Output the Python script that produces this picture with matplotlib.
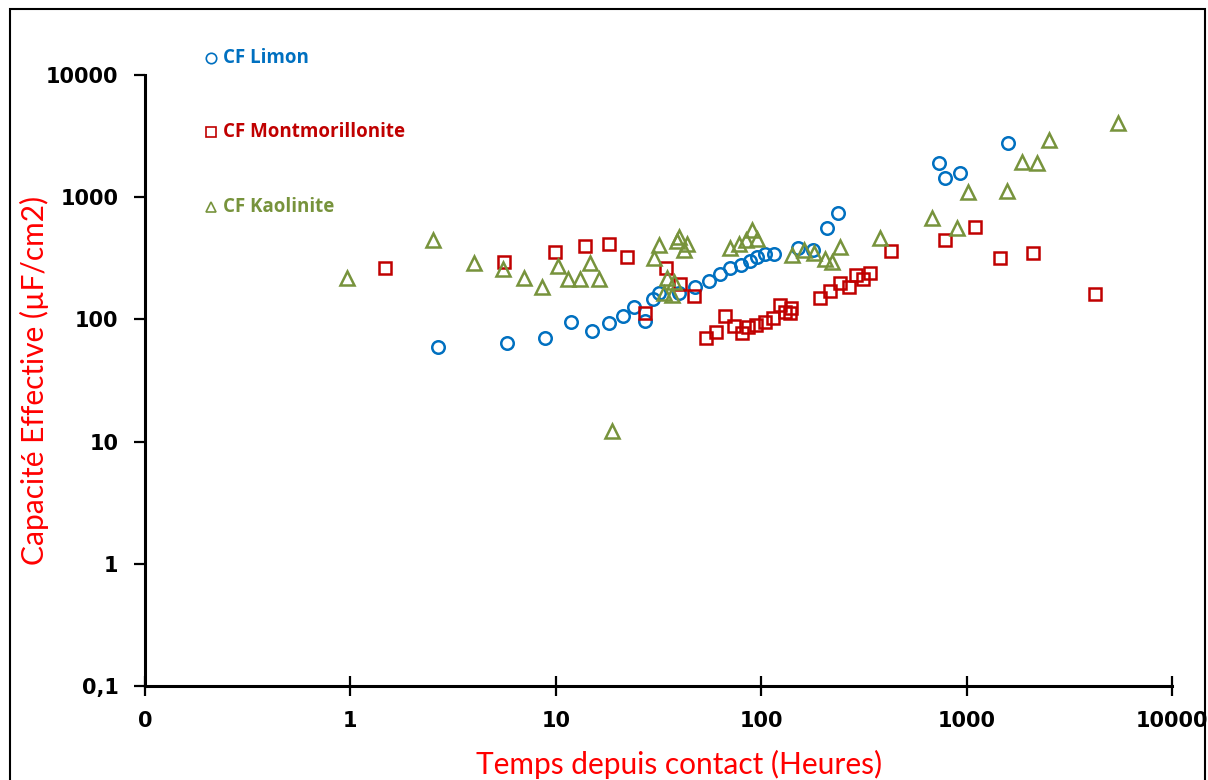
import matplotlib
matplotlib.use("Agg")
import matplotlib.pyplot as plt
from matplotlib.patches import Rectangle

# Temps (heures) / Capacité effective (µF/cm2)
limon_t = [2.67, 5.8, 8.9, 11.9, 15.0, 18.1, 21.2, 24.0, 27.2, 29.7, 31.8, 39.9,
           47.7, 55.9, 63.3, 70.8, 79.3, 87.8, 94.9, 104, 116, 151, 178, 209, 237,
           730, 781, 925, 1589]
limon_c = [60, 63.6, 71, 96, 81, 92.7, 105.8, 125.4, 96.3, 146, 166, 166,
           183, 205, 234, 262, 277, 298, 323, 341, 341, 382, 368, 557, 739,
           1900, 1432, 1573, 2771]

montmo_t = [1.48, 5.61, 9.86, 13.8, 18.1, 22.2, 27.2, 34.4, 40.3, 47.2,
            54.0, 60.5, 66.9, 74.1, 80.2, 85.8, 93.9, 104, 114, 123, 130, 139, 138,
            193, 216, 242, 268, 290, 313, 339, 430, 781, 1096, 1452, 2107, 4237]
montmo_c = [262, 293, 354, 397, 412, 322, 112, 262, 194, 154,
            69.9, 78.3, 105.8, 87.6, 76.8, 86.0, 89.3, 94.5, 102, 130, 114, 123, 112,
            149, 170, 197, 183, 229, 213, 238, 361, 444, 568, 316, 348, 160]

kaol_t = [0.967, 2.52, 4.0, 5.55, 7.03, 8.61, 10.2, 11.5, 13.1, 14.6, 16.2, 18.7,
          30.1, 31.8, 33.7, 34.8, 36.8, 37.7, 39.0, 39.9, 42.2, 43.6,
          70.8, 78.4, 84.8, 89.8, 94.9, 142, 161, 180, 204, 221, 242,
          380, 675, 895, 1012, 1571, 1862, 2204, 2524, 5430]
kaol_c = [217, 444, 288, 257, 217, 183, 272, 213, 213, 288, 213, 12.1,
          316, 404, 163, 217, 157, 201, 436, 470, 368, 412,
          382, 412, 444, 537, 452, 335, 368, 347, 310, 293, 389,
          461, 673, 557, 1099, 1120, 1936, 1900, 2932, 4042]

x_ticks = [0.1, 1, 10, 100, 1000, 10000]
x_labels = ["0", "1", "10", "100", "1000", "10000"]
y_ticks = [0.1, 1, 10, 100, 1000, 10000]
y_labels = ["0,1", "1", "10", "100", "1000", "10000"]

blue = "#0070C0"
red = "#C00000"
green = "#77933C"

fig = plt.figure(figsize=(12.08, 7.8), dpi=100)
ax = fig.add_axes([145 / 1208, 1 - 686 / 780, (1172 - 145) / 1208, (686 - 75) / 780])

ms = 9
ax.plot(limon_t, limon_c, 'o', ms=ms, mfc='none', mec=blue, mew=1.8, clip_on=False)
ax.plot(montmo_t, montmo_c, 's', ms=ms, mfc='none', mec=red, mew=1.8, clip_on=False)
ax.plot(kaol_t, kaol_c, '^', ms=ms + 1, mfc='none', mec=green, mew=1.8, clip_on=False)

ax.set_xscale('log')
ax.set_yscale('log')
ax.set_xlim(0.1, 10000)
ax.set_ylim(0.1, 10000)
ax.set_xticks(x_ticks)
ax.set_xticklabels(x_labels)
ax.set_yticks(y_ticks)
ax.set_yticklabels(y_labels)
ax.minorticks_off()

for s in ['top', 'right']:
    ax.spines[s].set_visible(False)
for s in ['left', 'bottom']:
    ax.spines[s].set_linewidth(2.2)

ax.tick_params(axis='x', direction='inout', length=14, width=1.6, pad=11)
ax.tick_params(axis='y', direction='out', length=8, width=1.6, pad=11)
for lab in ax.get_xticklabels():
    lab.set_family(['DejaVu Sans Condensed', 'DejaVu Sans'])
    lab.set_fontsize(15)
    lab.set_fontweight('bold')
for lab in ax.get_yticklabels():
    lab.set_family('DejaVu Sans')
    lab.set_fontsize(15)
    lab.set_fontweight('bold')

ax.set_xlabel('Temps depuis contact (Heures)', color='#FF0000', fontsize=21.5,
              family=['Lato', 'DejaVu Sans'])
ax.xaxis.set_label_coords(0.52, -0.104)
ax.set_ylabel('Capacité Effective (µF/cm2)', color='#FF0000', fontsize=21.5,
              family=['Lato', 'DejaVu Sans'])
ax.yaxis.set_label_coords(-0.093, 0.5)

# légende manuelle
leg = [("CF Limon", 'o', blue, 58), ("CF Montmorillonite", 's', red, 132),
       ("CF Kaolinite", '^', green, 207)]
for name, m, c, ypix in leg:
    fy = 1 - ypix / 780
    fig.lines.append(plt.Line2D([211 / 1208], [fy], marker=m, ms=7.5, mfc='none',
                                mec=c, mew=1.2, transform=fig.transFigure))
    fig.text(223 / 1208, fy, name, color=c, fontsize=13.5, fontweight='bold',
             family=['Open Sans', 'DejaVu Sans'], va='center', ha='left')

fig.patches.append(Rectangle((10 / 1208, -0.05), 1195 / 1208, 1.05 - 9 / 780,
                             transform=fig.transFigure, fill=False, ec='black', lw=1.5))

fig.savefig('out.png', dpi=100)
